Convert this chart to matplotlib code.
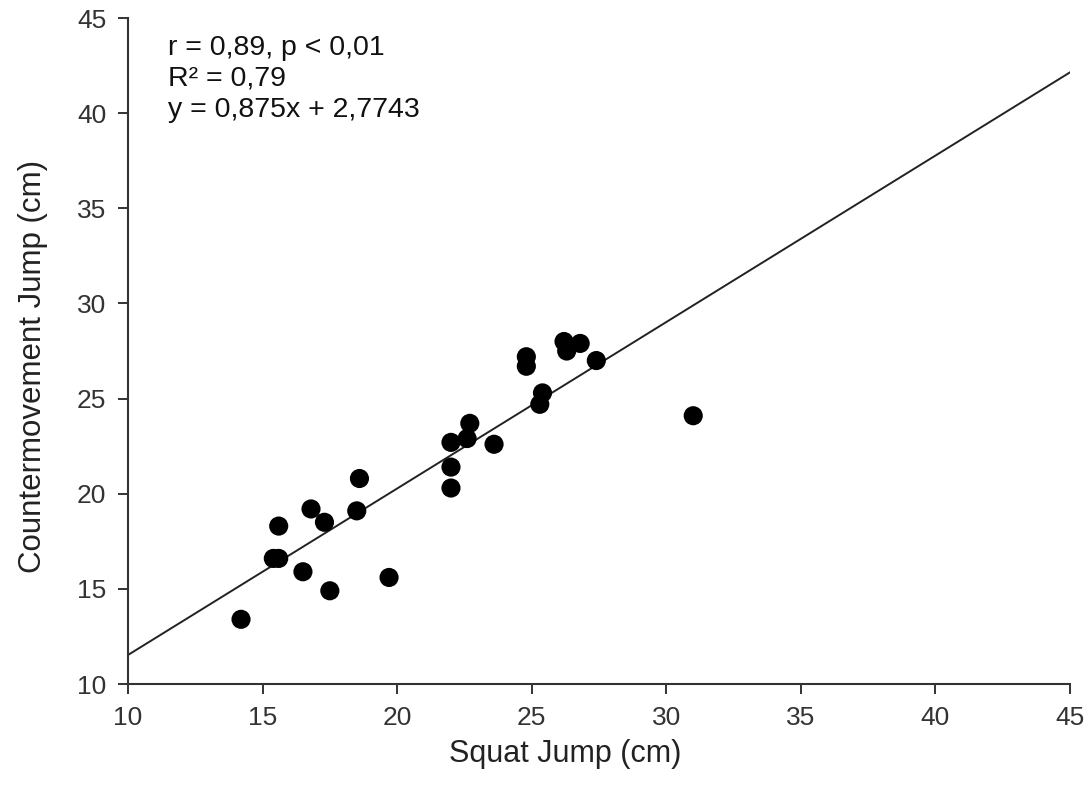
import numpy as np
import matplotlib.pyplot as plt

plt.rcParams['font.family'] = ['Liberation Sans', 'DejaVu Sans']

# squat jump vs countermovement jump (cm)
sj = [14.2, 15.4, 15.6, 15.6, 16.5, 16.8, 17.3, 17.5, 18.5, 18.6, 19.7,
      22.0, 22.0, 22.0, 22.6, 22.7, 23.6, 24.8, 24.8, 25.3, 25.4,
      26.2, 26.3, 26.8, 27.4, 31.0]
cmj = [13.4, 16.6, 16.6, 18.3, 15.9, 19.2, 18.5, 14.9, 19.1, 20.8, 15.6,
       20.3, 21.4, 22.7, 22.9, 23.7, 22.6, 26.7, 27.2, 24.7, 25.3,
       28.0, 27.5, 27.9, 27.0, 24.1]
slope = 0.875
intercept = 2.7743
stats = ["r = 0,89, p < 0,01", "R² = 0,79", "y = 0,875x + 2,7743"]

fig = plt.figure(figsize=(10.91, 7.96), dpi=100)
ax = fig.add_axes([0.1173, 0.1407, 0.8635, 0.8366])

xl = np.array([10, 45])
ax.plot(xl, slope * xl + intercept, color='#222222', lw=1.4, zorder=1)
ax.scatter(sj, cmj, s=190, color='black', zorder=2, edgecolors='none')

ax.set_xlim(10, 45)
ax.set_ylim(10, 45)
ax.set_xticks(np.arange(10, 46, 5))
ax.set_yticks(np.arange(10, 46, 5))
for s in ['top', 'right']:
    ax.spines[s].set_visible(False)
for s in ['left', 'bottom']:
    ax.spines[s].set_linewidth(1.5)
    ax.spines[s].set_color('#333333')
ax.tick_params(direction='out', length=7.5, width=1.4, labelsize=19,
               colors='#333333', pad=8)

ax.set_xlabel("Squat Jump (cm)", fontsize=22, color='#222222')
ax.set_ylabel("Countermovement Jump (cm)", fontsize=22.5, color='#222222')
ax.xaxis.set_label_coords(0.464, -0.083)
ax.yaxis.set_label_coords(-0.085, 0.477)

for i, t in enumerate(stats):
    ax.text(0.043, 0.945 - i * 0.0465, t, transform=ax.transAxes,
            fontsize=20.5, va='baseline', ha='left', color='#111111')

fig.savefig("out.png", dpi=100)
